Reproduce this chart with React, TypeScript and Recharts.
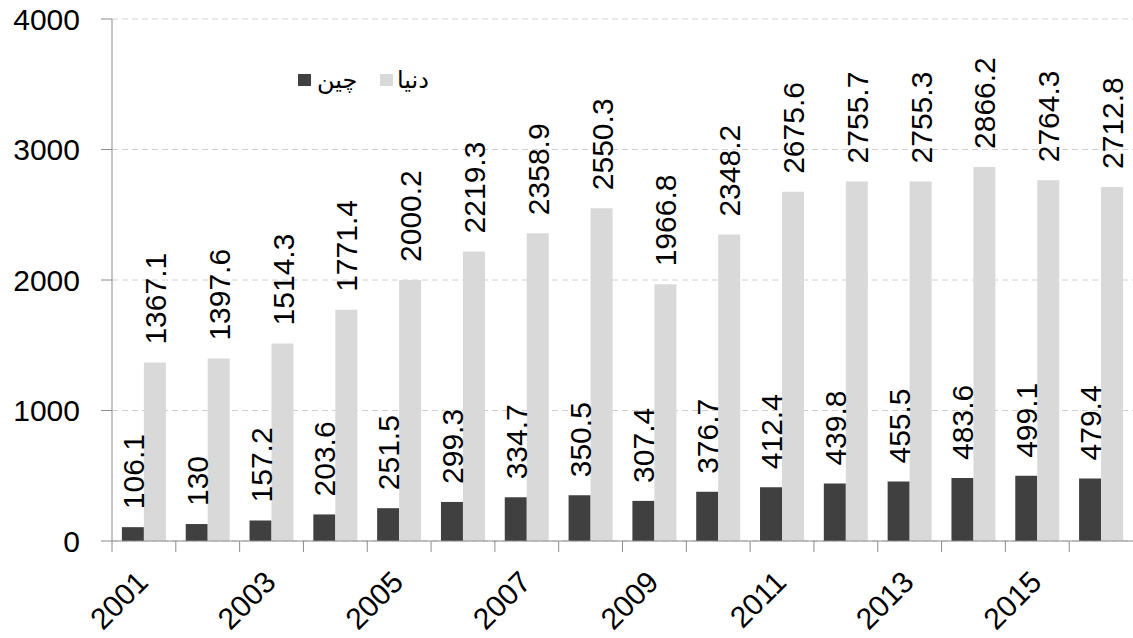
import React from "react";
import { BarChart, Bar, XAxis, YAxis, CartesianGrid, LabelList } from "recharts";

const years = [
  "2001", "2002", "2003", "2004", "2005", "2006", "2007", "2008",
  "2009", "2010", "2011", "2012", "2013", "2014", "2015", "2016",
];
const china = [106.1, 130, 157.2, 203.6, 251.5, 299.3, 334.7, 350.5, 307.4, 376.7, 412.4, 439.8, 455.5, 483.6, 499.1, 479.4];
const world = [1367.1, 1397.6, 1514.3, 1771.4, 2000.2, 2219.3, 2358.9, 2550.3, 1966.8, 2348.2, 2675.6, 2755.7, 2755.3, 2866.2, 2764.3, 2712.8];
const yTicks = [0, 1000, 2000, 3000, 4000];

const data = years.map((year, i) => ({ year, china: china[i], world: world[i] }));

const AXIS = "#8c8c8c";
const FONT = 30;

function BarLabel(props: any) {
  const { x, y, width, value } = props;
  const cx = Number(x) + Number(width) / 2 + 11;
  const ty = Number(y) - 18;
  return (
    <text x={cx} y={ty} transform={`rotate(-90 ${cx} ${ty})`} textAnchor="start" fontSize={FONT} fill="#000">
      {value}
    </text>
  );
}

function YearTick(props: any) {
  const { x, y, index, payload, width, visibleTicksCount } = props;
  const bw = width && visibleTicksCount ? width / visibleTicksCount : 1021 / 16;
  const left = x - bw / 2;
  const tx = x + 6;
  const ty = y + 43;
  return (
    <g>
      <line x1={left} x2={left} y1={y} y2={y + 11} stroke={AXIS} />
      {index % 2 === 0 && (
        <text x={tx} y={ty} transform={`rotate(-45 ${tx} ${ty})`} textAnchor="end" fontSize={FONT} fill="#000">
          {payload.value}
        </text>
      )}
    </g>
  );
}

export default function App() {
  return (
    <div style={{ position: "absolute", left: 0, top: 0, width: 1133, height: 638, fontFamily: "'Liberation Sans', Arial, sans-serif", background: "#fff" }}>
      <BarChart width={1133} height={638} data={data} margin={{ top: 19, right: 0, left: 0, bottom: 0 }} barCategoryGap="15.5%" barGap={0}>
        <CartesianGrid vertical={false} stroke="#d0d0d0" strokeDasharray="6 4" />
        <XAxis
          dataKey="year"
          height={97}
          interval={0}
          tickSize={0}
          tickMargin={0}
          tickLine={false}
          axisLine={{ stroke: AXIS }}
          tick={<YearTick />}
        />
        <YAxis
          width={112}
          domain={[0, 4000]}
          ticks={yTicks}
          tickSize={11}
          tickMargin={21}
          tickLine={{ stroke: AXIS }}
          axisLine={{ stroke: AXIS }}
          tick={{ fill: "#000", fontSize: FONT }}
        />
        <Bar dataKey="china" fill="#404040" isAnimationActive={false}>
          <LabelList dataKey="china" content={<BarLabel />} />
        </Bar>
        <Bar dataKey="world" fill="#d9d9d9" isAnimationActive={false}>
          <LabelList dataKey="world" content={<BarLabel />} />
        </Bar>
      </BarChart>
      <div style={{ position: "absolute", left: 298, top: 66, display: "flex", alignItems: "center", fontFamily: "'DejaVu Sans', sans-serif", fontSize: 24 }}>
        <span style={{ width: 13, height: 12, background: "#404040", display: "inline-block", marginRight: 6 }} />
        <span>چین</span>
      </div>
      <div style={{ position: "absolute", left: 380, top: 66, display: "flex", alignItems: "center", fontFamily: "'DejaVu Sans', sans-serif", fontSize: 24 }}>
        <span style={{ width: 13, height: 12, background: "#d9d9d9", display: "inline-block", marginRight: 4 }} />
        <span>دنیا</span>
      </div>
    </div>
  );
}
